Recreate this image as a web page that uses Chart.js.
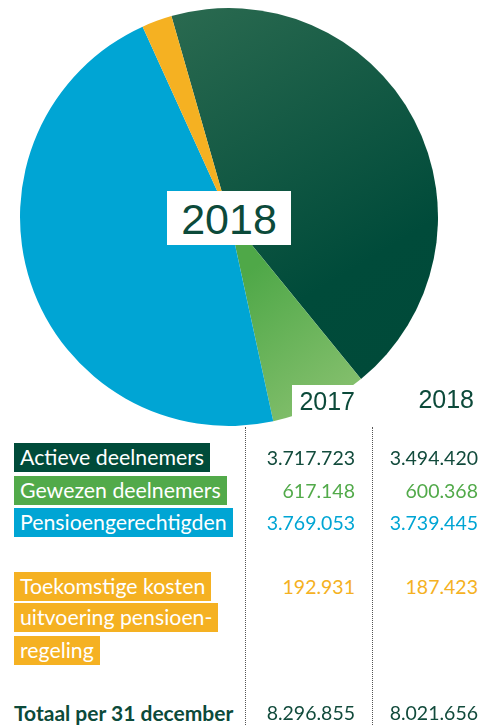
<!DOCTYPE html>
<html>
<head>
<meta charset="utf-8">
<script src="https://cdn.jsdelivr.net/npm/chart.js@4"></script>
<style>
  html, body { margin: 0; padding: 0; background: #fff; }
  body { width: 496px; height: 725px; position: relative; overflow: hidden; font-family: Lato, sans-serif; }
  #pieWrap { position: absolute; left: 0; top: 0; }
  .abs { position: absolute; }
  .yearBox { background: #fff; color: #0c4a3a; font-family: "Liberation Sans", Arial, sans-serif; }
  .label { position: absolute; left: 14px; height: 29px; line-height: 29px; padding: 0 6px; color: #fff; font-size: 21.3px; white-space: nowrap; }
  .num { position: absolute; height: 29px; line-height: 29px; font-size: 19.5px; text-align: right; white-space: nowrap; }
  .vline { position: absolute; top: 427px; height: 300px; width: 0; border-left: 1px dotted #555; }
</style>
</head>
<body>
<div id="pieWrap"><canvas id="pie" width="458" height="434"></canvas></div>
<div id="table"></div>

<script>
// ---- data (values in euro x 1.000) ----
const categories = ['Actieve deelnemers', 'Gewezen deelnemers', 'Pensioengerechtigden', 'Toekomstige kosten uitvoering pensioenregeling'];
const labelLines = [['Actieve deelnemers'], ['Gewezen deelnemers'], ['Pensioengerechtigden'], ['Toekomstige kosten', 'uitvoering pensioen-', 'regeling']];
const years = ['2017', '2018'];
const values2017 = [3717723, 617148, 3769053, 192931];
const values2018 = [3494420, 600368, 3739445, 187423];
const totalLabel = 'Totaal per 31 december';
const colors = ['#004b3a', '#52aa4a', '#00a5d4', '#f5b122'];

function fmt(n) {
  return String(n).replace(/\B(?=(\d{3})+(?!\d))/g, '.');
}
const sum = arr => arr.reduce((s, v) => s + v, 0);

// ---- pie ----
function sliceColor(ctx) {
  const chart = ctx.chart;
  const c = chart.ctx;
  if (!chart.chartArea) return colors[ctx.dataIndex];
  if (ctx.dataIndex === 0) {
    const g = c.createLinearGradient(190, 10, 400, 360);
    g.addColorStop(0, '#29694f');
    g.addColorStop(0.75, '#004b3a');
    g.addColorStop(1, '#004a39');
    return g;
  }
  if (ctx.dataIndex === 1) {
    const g = c.createLinearGradient(250, 270, 350, 400);
    g.addColorStop(0, '#4fa848');
    g.addColorStop(1, '#86c06e');
    return g;
  }
  return colors[ctx.dataIndex];
}

new Chart(document.getElementById('pie'), {
  type: 'pie',
  data: {
    labels: categories,
    datasets: [{ data: values2018, backgroundColor: sliceColor, borderWidth: 0 }]
  },
  options: {
    responsive: false,
    animation: false,
    radius: 209,
    rotation: -16,
    layout: { padding: 0 },
    plugins: { legend: { display: false }, tooltip: { enabled: false } }
  }
});

// ---- overlays + table ----
const rowTops = [[443], [476], [508], [572, 603, 636]];
const colRight = [355, 478];
const html = [];

html.push('<div class="abs yearBox" style="left:167px;top:191px;width:124px;height:54px;font-size:43px;line-height:56px;text-align:center;">' + years[1] + '</div>');
html.push('<div class="abs yearBox" style="left:292px;top:385px;width:80px;height:42px;"></div>');
html.push('<div class="abs yearBox" style="left:292px;top:386px;width:63px;font-size:25px;line-height:30px;text-align:right;background:transparent;">' + years[0] + '</div>');
html.push('<div class="abs yearBox" style="left:400px;top:384px;width:74px;font-size:25px;line-height:30px;text-align:right;background:transparent;">' + years[1] + '</div>');
html.push('<div class="vline" style="left:245px"></div><div class="vline" style="left:372px"></div>');

labelLines.forEach((lines, i) => {
  lines.forEach((t, j) => {
    html.push('<div class="label" style="top:' + rowTops[i][j] + 'px;background:' + colors[i] + '">' + t + '</div>');
  });
  const top = rowTops[i][0];
  const col = i === 0 ? '#124b3c' : colors[i];
  [values2017, values2018].forEach((vals, k) => {
    html.push('<div class="num" style="top:' + top + 'px;right:' + (496 - colRight[k]) + 'px;color:' + col + '">' + fmt(vals[i]) + '</div>');
  });
});

html.push('<div class="abs" style="left:14px;top:698px;font-size:21px;font-weight:bold;line-height:29px;color:#0c4a3a;white-space:nowrap;">' + totalLabel + '</div>');
[values2017, values2018].forEach((vals, k) => {
  html.push('<div class="num" style="top:698px;right:' + (496 - colRight[k]) + 'px;color:#124b3c">' + fmt(sum(vals)) + '</div>');
});

document.getElementById('table').innerHTML = html.join('');
</script>
</body>
</html>
